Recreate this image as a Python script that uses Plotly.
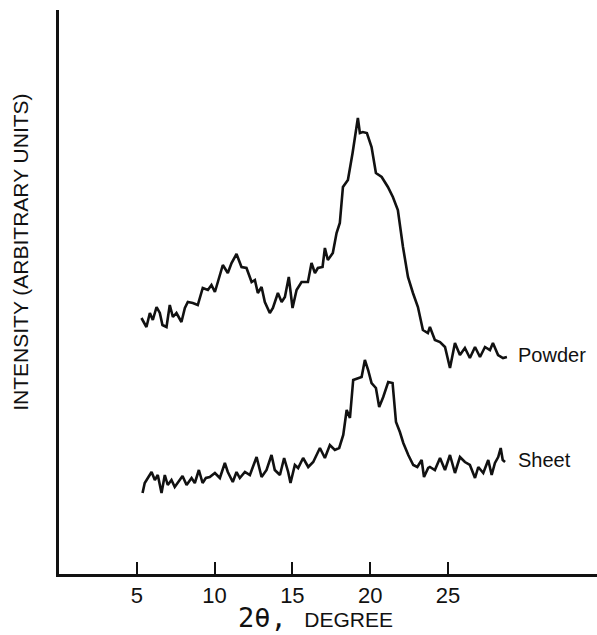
import plotly.graph_objects as go

# 2-theta (degree) and intensity (arbitrary units)
powder_2theta = [5.30, 5.62, 5.84, 6.03, 6.27, 6.48, 6.65, 6.91, 7.12, 7.32, 7.55, 7.87, 8.09, 8.28,
                 8.60, 8.92, 9.24, 9.57, 9.80, 10.02, 10.21, 10.53, 10.85, 11.09, 11.41, 11.73, 12.05,
                 12.38, 12.59, 12.78, 13.02, 13.23, 13.55, 13.75, 14.07, 14.31, 14.52, 14.77, 15.01,
                 15.27, 15.59, 16.00, 16.23, 16.45, 16.64, 16.94, 17.09, 17.28, 17.60, 17.84, 18.05,
                 18.25, 18.57, 18.87, 19.21, 19.34, 19.53, 19.79, 20.09, 20.37, 20.74, 21.14, 21.46,
                 21.78, 22.11, 22.43, 22.75, 23.07, 23.39, 23.71, 23.84, 24.16, 24.49, 24.81, 25.13,
                 25.45, 25.77, 26.09, 26.41, 26.74, 27.06, 27.38, 27.70, 27.89, 28.22, 28.54, 28.79]
powder_int = [256, 247, 261, 254, 267, 261, 249, 247, 269, 257, 261, 252, 266, 272,
              271, 269, 286, 284, 289, 282, 292, 309, 301, 311, 320, 307, 306,
              292, 294, 281, 287, 272, 261, 266, 281, 272, 277, 297, 266,
              284, 292, 292, 311, 301, 306, 307, 326, 314, 321, 341, 351,
              387, 394, 421, 456, 441, 442, 441, 427, 401, 397, 387, 377,
              364, 327, 297, 281, 267, 244, 241, 247, 234, 232, 227, 206,
              231, 219, 226, 216, 227, 217, 227, 224, 231, 219, 216, 217]

sheet_2theta = [5.37, 5.51, 5.71, 5.95, 6.16, 6.35, 6.59, 6.80, 6.99, 7.23, 7.44, 7.64, 7.94, 8.20,
                8.52, 8.73, 8.99, 9.23, 9.44, 9.69, 10.02, 10.34, 10.66, 10.85, 11.17, 11.41, 11.62,
                11.95, 12.27, 12.70, 13.02, 13.34, 13.66, 13.87, 14.20, 14.47, 14.73, 14.88, 15.16,
                15.37, 15.69, 16.02, 16.34, 16.77, 17.09, 17.41, 17.73, 18.01, 18.27, 18.49, 18.70,
                18.91, 19.23, 19.45, 19.66, 19.87, 20.09, 20.37, 20.58, 20.84, 21.16, 21.44, 21.66,
                21.91, 22.13, 22.45, 22.77, 23.03, 23.31, 23.46, 23.73, 23.84, 24.16, 24.49, 24.81,
                25.13, 25.45, 25.77, 26.09, 26.41, 26.74, 26.95, 27.27, 27.59, 27.81, 28.02, 28.23,
                28.39, 28.52, 28.67]
sheet_int = [81, 91, 96, 102, 94, 99, 81, 99, 89, 94, 87, 91, 98, 89,
             96, 91, 104, 91, 96, 97, 101, 96, 111, 102, 92, 102, 96,
             102, 99, 117, 97, 104, 119, 104, 99, 116, 102, 91, 109,
             106, 116, 107, 112, 126, 116, 129, 124, 126, 139, 164, 156,
             194, 196, 197, 214, 204, 191, 186, 167, 177, 192, 191, 152,
             142, 131, 119, 109, 107, 114, 97, 106, 107, 104, 116, 104,
             119, 101, 117, 112, 109, 96, 107, 101, 114, 99, 111, 117,
             126, 114, 112]

tick_vals = [5, 10, 15, 20, 25]
tick_text = ["5", "10", "15", "20", "25"]
series_labels = ["Powder", "Sheet"]

FONT = "Liberation Sans, Arial, sans-serif"

fig = go.Figure()
for xs, ys in [(powder_2theta, powder_int), (sheet_2theta, sheet_int)]:
    fig.add_trace(go.Scatter(x=xs, y=ys, mode="lines",
                             line=dict(color="#111111", width=2.6),
                             showlegend=False, hoverinfo="skip"))

# curve labels
fig.add_annotation(x=29.35, y=219, xref="x", yref="y", text=series_labels[0],
                   showarrow=False, xanchor="left", yanchor="middle",
                   font=dict(family=FONT, size=20, color="#111111"))
fig.add_annotation(x=29.35, y=114, xref="x", yref="y", text=series_labels[1],
                   showarrow=False, xanchor="left", yanchor="middle",
                   font=dict(family=FONT, size=20, color="#111111"))

# axis titles
fig.add_annotation(x=0.477, y=-0.078, xref="paper", yref="paper",
                   text="<span style='font-size:27px;font-family:DejaVu Sans Mono'>2θ,</span>&nbsp;&nbsp;&nbsp;DEGREE",
                   showarrow=False, xanchor="center", yanchor="middle",
                   font=dict(family=FONT, size=21, color="#111111"))
fig.add_annotation(x=-0.072, y=0.57, xref="paper", yref="paper",
                   text="INTENSITY (ARBITRARY UNITS)", textangle=-90,
                   showarrow=False, xanchor="center", yanchor="middle",
                   font=dict(family=FONT, size=21, color="#111111"))

fig.update_layout(
    width=597, height=635,
    margin=dict(l=59, r=0, t=10, b=61),
    paper_bgcolor="white", plot_bgcolor="white",
    xaxis=dict(range=[0, 34.58], tickvals=tick_vals, ticktext=tick_text,
               ticks="inside", ticklen=12, tickwidth=2, tickcolor="#111111",
               showline=True, linecolor="#111111", linewidth=2.5,
               showgrid=False, zeroline=False,
               tickfont=dict(family=FONT, size=22, color="#111111")),
    yaxis=dict(range=[0, 564], showticklabels=False, ticks="",
               showline=True, linecolor="#111111", linewidth=2.5,
               showgrid=False, zeroline=False),
)

fig.write_html("out.html")
